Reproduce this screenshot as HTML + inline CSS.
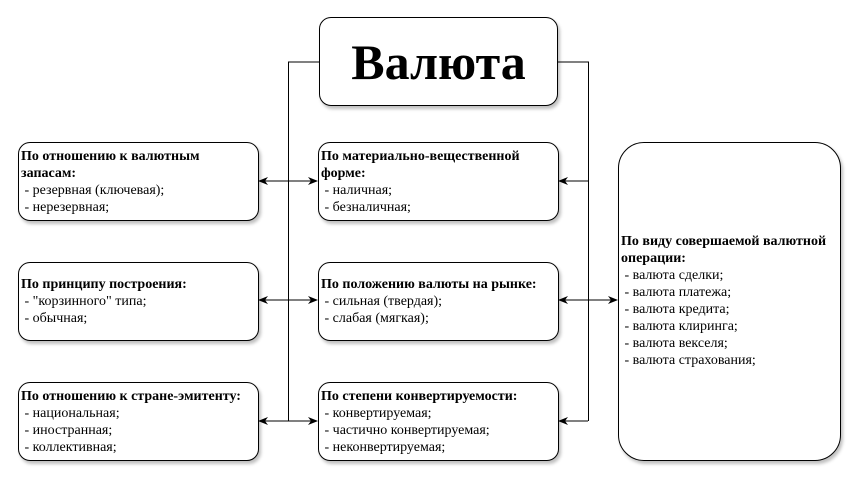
<!DOCTYPE html>
<html><head><meta charset="utf-8"><style>
body{margin:0;width:858px;height:479px;background:#fff;position:relative;overflow:hidden;font-family:"Liberation Serif","DejaVu Serif",serif;}
.b{position:absolute;border:1px solid #000;border-radius:12px;background:#fff;box-shadow:2px 3px 3px rgba(0,0,0,.25);box-sizing:border-box;font-size:14px;line-height:17px;padding:3px 2px;}
.b b{display:block}
.t{position:absolute;left:319px;top:17px;width:239px;height:89px;border-radius:12px;font-size:50px;font-weight:bold;text-align:center;line-height:89px;padding:0;}
</style></head><body>
<svg width="858" height="479" style="position:absolute;left:0;top:0">
<defs><marker id="a" markerWidth="10" markerHeight="8" refX="9" refY="4" orient="auto" markerUnits="userSpaceOnUse"><path d="M0,0 L10,4 L0,8 L3,4z" fill="#000"/></marker></defs>
<g stroke="#000" stroke-width="1" fill="none">
<path d="M319,62 H288.5 V421"/><path d="M558,62 H588.5 V421"/>
<line x1="288" y1="181" x2="259" y2="181" marker-end="url(#a)"/><line x1="288" y1="181" x2="317" y2="181" marker-end="url(#a)"/>
<line x1="288" y1="300" x2="259" y2="300" marker-end="url(#a)"/><line x1="288" y1="300" x2="317" y2="300" marker-end="url(#a)"/>
<line x1="288" y1="421" x2="259" y2="421" marker-end="url(#a)"/><line x1="288" y1="421" x2="317" y2="421" marker-end="url(#a)"/>
<line x1="588" y1="181" x2="559" y2="181" marker-end="url(#a)"/>
<line x1="588" y1="300" x2="559" y2="300" marker-end="url(#a)"/><line x1="588" y1="300" x2="617" y2="300" marker-end="url(#a)"/>
<line x1="588" y1="421" x2="559" y2="421" marker-end="url(#a)"/>
</g></svg>
<div class="b t">Валюта</div>
<div class="b" style="left:18px;top:142px;width:241px;height:79px;padding-top:5px"><b>По отношению к валютным запасам:</b>&nbsp;- резервная (ключевая);<br>&nbsp;- нерезервная;</div>
<div class="b" style="left:18px;top:262px;width:241px;height:79px;padding-top:13px"><b>По принципу построения:</b>&nbsp;- "корзинного" типа;<br>&nbsp;- обычная;</div>
<div class="b" style="left:18px;top:382px;width:241px;height:79px;padding-top:5px"><b>По отношению к стране-эмитенту:</b>&nbsp;- национальная;<br>&nbsp;- иностранная;<br>&nbsp;- коллективная;</div>
<div class="b" style="left:318px;top:142px;width:241px;height:79px;padding-top:5px"><b>По материально-вещественной форме:</b>&nbsp;- наличная;<br>&nbsp;- безналичная;</div>
<div class="b" style="left:318px;top:262px;width:241px;height:79px;padding-top:13px"><b>По положению валюты на рынке:</b>&nbsp;- сильная (твердая);<br>&nbsp;- слабая (мягкая);</div>
<div class="b" style="left:318px;top:382px;width:241px;height:79px;padding-top:5px"><b>По степени конвертируемости:</b>&nbsp;- конвертируемая;<br>&nbsp;- частично конвертируемая;<br>&nbsp;- неконвертируемая;</div>
<div class="b" style="left:618px;top:142px;width:223px;height:319px;border-radius:26px;padding-top:90px"><b>По виду совершаемой валютной операции:</b>&nbsp;- валюта сделки;<br>&nbsp;- валюта платежа;<br>&nbsp;- валюта кредита;<br>&nbsp;- валюта клиринга;<br>&nbsp;- валюта векселя;<br>&nbsp;- валюта страхования;</div>
</body></html>
